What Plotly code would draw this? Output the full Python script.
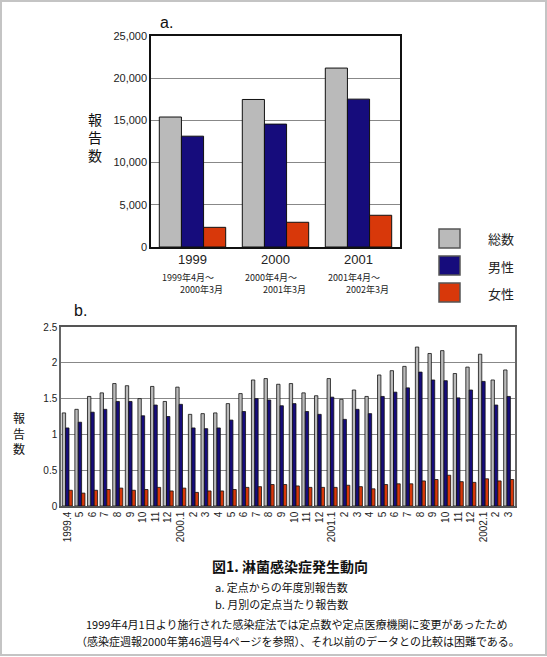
import plotly.graph_objects as go

# a. 年度別報告数
years = ["1999", "2000", "2001"]
periods_a = ["1999年4月～<br>　　2000年3月", "2000年4月～<br>　　2001年3月", "2001年4月～<br>　　2002年3月"]
total_a = [15400, 17480, 21200]
male_a = [13130, 14560, 17520]
female_a = [2330, 2930, 3760]

# b. 月別の定点当たり報告数
months = ["1999.4", "1999.5", "1999.6", "1999.7", "1999.8", "1999.9", "1999.10", "1999.11", "1999.12",
          "2000.1", "2000.2", "2000.3", "2000.4", "2000.5", "2000.6", "2000.7", "2000.8", "2000.9",
          "2000.10", "2000.11", "2000.12", "2001.1", "2001.2", "2001.3", "2001.4", "2001.5", "2001.6",
          "2001.7", "2001.8", "2001.9", "2001.10", "2001.11", "2001.12", "2002.1", "2002.2", "2002.3"]
month_labels = ["1999.4", "5", "6", "7", "8", "9", "10", "11", "12",
                "2000.1", "2", "3", "4", "5", "6", "7", "8", "9",
                "10", "11", "12", "2001.1", "2", "3", "4", "5", "6",
                "7", "8", "9", "10", "11", "12", "2002.1", "2", "3"]
total_b = [1.30, 1.35, 1.53, 1.58, 1.71, 1.68, 1.50, 1.67, 1.46,
           1.66, 1.28, 1.29, 1.30, 1.43, 1.57, 1.76, 1.78, 1.70,
           1.71, 1.58, 1.54, 1.78, 1.49, 1.62, 1.53, 1.83, 1.89,
           1.95, 2.22, 2.13, 2.17, 1.85, 1.94, 2.12, 1.76, 1.90]
male_b = [1.09, 1.17, 1.31, 1.35, 1.46, 1.46, 1.26, 1.41, 1.25,
          1.42, 1.09, 1.08, 1.09, 1.20, 1.32, 1.50, 1.48, 1.40,
          1.43, 1.32, 1.28, 1.52, 1.21, 1.35, 1.29, 1.53, 1.59,
          1.65, 1.87, 1.76, 1.75, 1.51, 1.62, 1.74, 1.41, 1.53]
female_b = [0.22, 0.18, 0.22, 0.23, 0.25, 0.22, 0.23, 0.26, 0.21,
            0.25, 0.19, 0.21, 0.21, 0.23, 0.26, 0.27, 0.30, 0.30,
            0.28, 0.26, 0.26, 0.26, 0.29, 0.27, 0.24, 0.30, 0.31,
            0.31, 0.35, 0.37, 0.43, 0.34, 0.33, 0.38, 0.35, 0.37]

series = ["総数", "男性", "女性"]
colors = ["#bababa", "#160c7c", "#d8380a"]

W, H = 547, 657
FONT = "Liberation Sans, Arial, Noto Sans CJK JP, sans-serif"
JP = "Noto Sans CJK JP, sans-serif"


def px(x):
    return x / W


def py(y):
    return 1 - y / H


fig = go.Figure()

for name, vals, c in zip(series, [total_a, male_a, female_a], colors):
    fig.add_trace(go.Bar(x=years, y=vals, name=name, marker_color=c,
                         marker_line=dict(color="#111", width=1),
                         xaxis="x", yaxis="y", showlegend=False))

for name, vals, c in zip(series, [total_b, male_b, female_b], colors):
    fig.add_trace(go.Bar(x=months, y=vals, name=name, marker_color=c,
                         marker_line=dict(color="#111", width=0.8),
                         xaxis="x2", yaxis="y2", showlegend=False))

annotations = []
shapes = []

# 年度ラベルの下の期間（カテゴリ番号で位置指定）
for i, p in enumerate(periods_a):
    annotations.append(dict(x=i, y=py(269), xref="x", yref="paper", text=p,
                            showarrow=False, yanchor="top", xanchor="center", align="left",
                            font=dict(size=9, family=JP, color="#222")))

# 凡例（手描き）
legend_tops = [229, 256, 283]
for name, c, top in zip(series, colors, legend_tops):
    shapes.append(dict(type="rect", xref="paper", yref="paper",
                       x0=px(439), x1=px(460), y0=py(top + 19), y1=py(top),
                       fillcolor=c, line=dict(color="#555", width=1.5)))
    annotations.append(dict(x=px(486), y=py(top + 10), xref="paper", yref="paper",
                            text=name, showarrow=False, xanchor="left", yanchor="middle",
                            font=dict(size=13, family=JP, color="#222")))

# 外枠
shapes.append(dict(type="rect", xref="paper", yref="paper", x0=px(1), x1=px(546),
                   y0=py(655), y1=py(1), line=dict(color="#c4c4c4", width=2)))

texts = [
    (px(166), py(23), "a.", 16, "center", FONT),
    (px(80), py(311), "b.", 16, "center", FONT),
    (px(95), py(137), "報<br>告<br>数", 14, "center", JP),
    (px(19), py(433), "報<br>告<br>数", 12, "center", JP),
    (px(290), py(566), "<b>図1. 淋菌感染症発生動向</b>", 14, "center", JP),
    (px(213), py(587), "a. 定点からの年度別報告数", 11, "left", JP),
    (px(213), py(604), "b. 月別の定点当たり報告数", 11, "left", JP),
    (px(296), py(624), "1999年4月1日より施行された感染症法では定点数や定点医療機関に変更があったため", 11, "center", JP),
    (px(298), py(641), "（感染症週報2000年第46週号4ページを参照）、それ以前のデータとの比較は困難である。", 11, "center", JP),
]
for x, y, t, s, anchor, fam in texts:
    annotations.append(dict(x=x, y=y, xref="paper", yref="paper", text=t, showarrow=False,
                            xanchor=anchor, yanchor="middle", align="center" if anchor == "center" else "left",
                            font=dict(size=s, family=fam, color="#111")))

fig.update_layout(
    width=W, height=H,
    margin=dict(l=0, r=0, t=0, b=0),
    paper_bgcolor="white", plot_bgcolor="white",
    font=dict(family=FONT, color="#222"),
    barmode="group", bargap=0.2, bargroupgap=0,
    xaxis=dict(domain=[px(151), px(400)], anchor="y", type="category", range=[-0.5, 2.5],
               automargin=False, showline=True, linecolor="#111", linewidth=1.5, mirror=True,
               ticks="", tickfont=dict(size=13)),
    yaxis=dict(domain=[py(247), py(36)], anchor="x", range=[0, 25000], dtick=5000,
               tickformat=",", showgrid=True, gridcolor="#888", gridwidth=1, automargin=False,
               showline=True, linecolor="#111", linewidth=1.5, mirror=True,
               ticks="", tickfont=dict(size=11), zeroline=False),
    xaxis2=dict(domain=[px(61), px(515)], anchor="y2", type="category", range=[-0.5, 35.5],
                automargin=False, showline=True, linecolor="#555", linewidth=1.5, mirror=True,
                ticks="", tickangle=-90, tickvals=months, ticktext=month_labels,
                tickfont=dict(size=10)),
    yaxis2=dict(domain=[py(506), py(327)], anchor="x2", range=[0, 2.5], dtick=0.5,
                showgrid=True, gridcolor="#888", gridwidth=1, automargin=False,
                showline=True, linecolor="#666", linewidth=1.5, mirror=True,
                ticks="", tickfont=dict(size=10), zeroline=False),
    annotations=annotations,
    shapes=shapes,
)

# ページ既定の余白を消して図を左上に揃える
fig.write_html("out.html", config={"displayModeBar": False},
               post_script="document.body.style.margin='0px';")
